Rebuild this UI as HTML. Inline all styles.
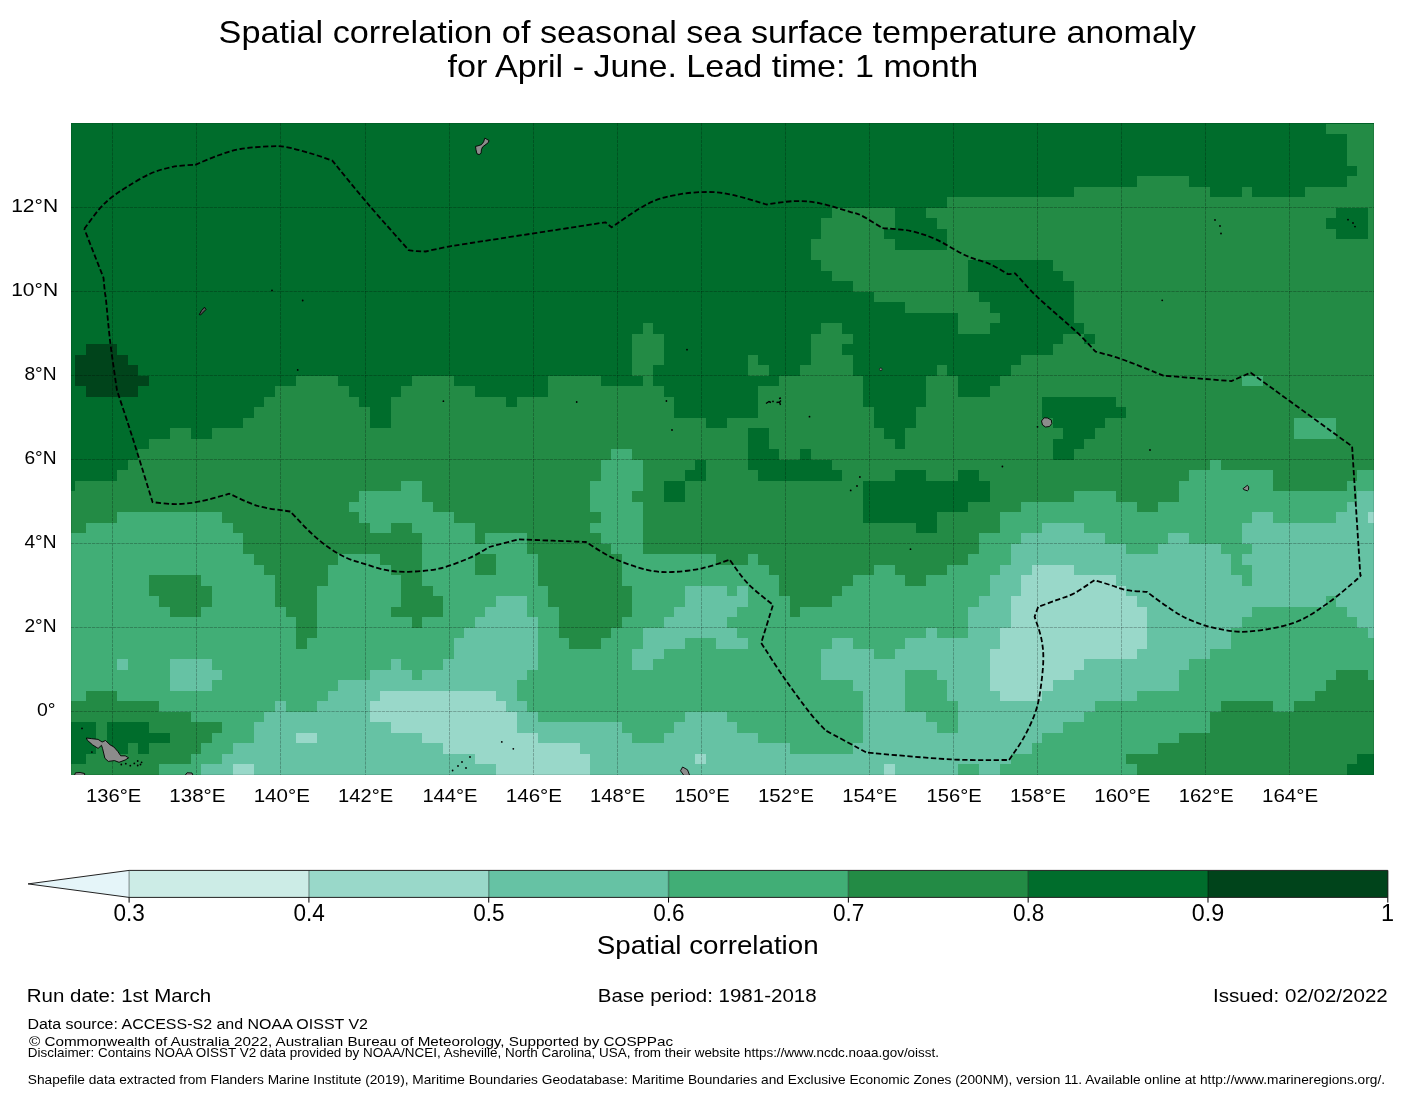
<!DOCTYPE html>
<html><head><meta charset="utf-8"><style>
html,body{margin:0;padding:0;background:#fff;width:1416px;height:1095px;overflow:hidden}
svg{display:block;will-change:transform}
text{font-family:"Liberation Sans", sans-serif;fill:#000}
</style></head><body>
<svg width="1416" height="1095" viewBox="0 0 1416 1095">
<rect width="1416" height="1095" fill="#fff"/>
<clipPath id="mc"><rect x="71.0" y="123.0" width="1303.0" height="652.0"/></clipPath>
<g clip-path="url(#mc)" shape-rendering="crispEdges"><rect x="71.0" y="123.0" width="1303.0" height="652.0" fill="#006d2c"/><path fill="#99d8c9" d="M1367.78 512.20H1374.00V522.70H1367.78ZM1031.54 564.70H1073.57V575.20H1031.54ZM1021.03 575.20H1115.60V585.70H1021.03ZM1021.03 585.70H1126.10V596.20H1021.03ZM1010.52 596.20H1136.61V606.70H1010.52ZM1010.52 606.70H1147.12V617.20H1010.52ZM1010.52 617.20H1147.12V627.70H1010.52ZM1000.01 627.70H1147.12V638.20H1000.01ZM1000.01 638.20H1147.12V648.70H1000.01ZM989.51 648.70H1136.61V659.20H989.51ZM989.51 659.20H1084.07V669.70H989.51ZM989.51 669.70H1073.57V680.20H989.51ZM989.51 680.20H1052.55V690.70H989.51ZM380.07 690.70H495.65V701.20H380.07ZM1000.01 690.70H1042.04V701.20H1000.01ZM369.56 701.20H506.16V711.70H369.56ZM369.56 711.70H516.67V722.20H369.56ZM390.58 722.20H516.67V732.70H390.58ZM296.01 732.70H317.03V743.20H296.01ZM422.10 732.70H537.68V743.20H422.10ZM443.12 743.20H579.71V753.70H443.12ZM474.64 753.70H590.22V764.20H474.64ZM695.30 753.70H705.80V764.20H695.30ZM232.97 764.20H253.98V774.70H232.97ZM495.65 764.20H590.22V774.70H495.65ZM884.43 764.20H894.94V774.70H884.43Z"/><path fill="#66c2a4" d="M1357.27 491.20H1374.00V501.70H1357.27ZM1346.76 501.70H1374.00V512.20H1346.76ZM1252.19 512.20H1273.21V522.70H1252.19ZM1336.25 512.20H1367.78V522.70H1336.25ZM1042.04 522.70H1084.07V533.20H1042.04ZM1241.69 522.70H1374.00V533.20H1241.69ZM1021.03 533.20H1105.09V543.70H1021.03ZM1168.13 533.20H1189.15V543.70H1168.13ZM1241.69 533.20H1374.00V543.70H1241.69ZM1010.52 543.70H1126.10V554.20H1010.52ZM1157.63 543.70H1220.67V554.20H1157.63ZM1252.19 543.70H1374.00V554.20H1252.19ZM1010.52 554.20H1231.18V564.70H1010.52ZM1241.69 554.20H1374.00V564.70H1241.69ZM1000.01 564.70H1031.54V575.20H1000.01ZM1073.57 564.70H1231.18V575.20H1073.57ZM1252.19 564.70H1374.00V575.20H1252.19ZM989.51 575.20H1021.03V585.70H989.51ZM1115.60 575.20H1241.69V585.70H1115.60ZM1252.19 575.20H1374.00V585.70H1252.19ZM684.79 585.70H726.82V596.20H684.79ZM737.33 585.70H747.83V596.20H737.33ZM989.51 585.70H1021.03V596.20H989.51ZM1126.10 585.70H1374.00V596.20H1126.10ZM495.65 596.20H527.18V606.70H495.65ZM684.79 596.20H747.83V606.70H684.79ZM979.00 596.20H1010.52V606.70H979.00ZM1136.61 596.20H1325.75V606.70H1136.61ZM1336.25 596.20H1374.00V606.70H1336.25ZM485.15 606.70H527.18V617.20H485.15ZM674.28 606.70H737.33V617.20H674.28ZM968.49 606.70H1010.52V617.20H968.49ZM1147.12 606.70H1252.19V617.20H1147.12ZM1346.76 606.70H1374.00V617.20H1346.76ZM474.64 617.20H537.68V627.70H474.64ZM663.77 617.20H726.82V627.70H663.77ZM968.49 617.20H1010.52V627.70H968.49ZM1147.12 617.20H1241.69V627.70H1147.12ZM1357.27 617.20H1374.00V627.70H1357.27ZM464.13 627.70H537.68V638.20H464.13ZM642.76 627.70H737.33V638.20H642.76ZM926.46 627.70H936.97V638.20H926.46ZM968.49 627.70H1000.01V638.20H968.49ZM1147.12 627.70H1231.18V638.20H1147.12ZM1367.78 627.70H1374.00V638.20H1367.78ZM453.62 638.20H537.68V648.70H453.62ZM642.76 638.20H684.79V648.70H642.76ZM716.31 638.20H747.83V648.70H716.31ZM831.89 638.20H852.91V648.70H831.89ZM905.45 638.20H1000.01V648.70H905.45ZM1147.12 638.20H1231.18V648.70H1147.12ZM453.62 648.70H537.68V659.20H453.62ZM632.25 648.70H663.77V659.20H632.25ZM821.39 648.70H873.92V659.20H821.39ZM894.94 648.70H989.51V659.20H894.94ZM1136.61 648.70H1210.16V659.20H1136.61ZM117.38 659.20H127.89V669.70H117.38ZM169.92 659.20H211.95V669.70H169.92ZM390.58 659.20H401.09V669.70H390.58ZM443.12 659.20H537.68V669.70H443.12ZM632.25 659.20H653.27V669.70H632.25ZM821.39 659.20H989.51V669.70H821.39ZM1084.07 659.20H1189.15V669.70H1084.07ZM169.92 669.70H222.46V680.20H169.92ZM369.56 669.70H411.59V680.20H369.56ZM422.10 669.70H527.18V680.20H422.10ZM821.39 669.70H905.45V680.20H821.39ZM936.97 669.70H989.51V680.20H936.97ZM1073.57 669.70H1178.64V680.20H1073.57ZM169.92 680.20H211.95V690.70H169.92ZM338.04 680.20H516.67V690.70H338.04ZM852.91 680.20H905.45V690.70H852.91ZM947.48 680.20H989.51V690.70H947.48ZM1052.55 680.20H1178.64V690.70H1052.55ZM327.53 690.70H380.07V701.20H327.53ZM495.65 690.70H516.67V701.20H495.65ZM863.42 690.70H905.45V701.20H863.42ZM947.48 690.70H1000.01V701.20H947.48ZM1042.04 690.70H1136.61V701.20H1042.04ZM275.00 701.20H285.50V711.70H275.00ZM317.03 701.20H369.56V711.70H317.03ZM506.16 701.20H527.18V711.70H506.16ZM863.42 701.20H905.45V711.70H863.42ZM957.98 701.20H1094.58V711.70H957.98ZM264.49 711.70H369.56V722.20H264.49ZM516.67 711.70H537.68V722.20H516.67ZM684.79 711.70H726.82V722.20H684.79ZM863.42 711.70H926.46V722.20H863.42ZM957.98 711.70H1084.07V722.20H957.98ZM253.98 722.20H390.58V732.70H253.98ZM516.67 722.20H621.74V732.70H516.67ZM674.28 722.20H737.33V732.70H674.28ZM863.42 722.20H936.97V732.70H863.42ZM957.98 722.20H1063.06V732.70H957.98ZM253.98 732.70H296.01V743.20H253.98ZM317.03 732.70H422.10V743.20H317.03ZM537.68 732.70H632.25V743.20H537.68ZM663.77 732.70H758.34V743.20H663.77ZM863.42 732.70H1042.04V743.20H863.42ZM232.97 743.20H443.12V753.70H232.97ZM579.71 743.20H789.86V753.70H579.71ZM852.91 743.20H1031.54V753.70H852.91ZM222.46 753.70H474.64V764.20H222.46ZM590.22 753.70H695.30V764.20H590.22ZM705.80 753.70H1010.52V764.20H705.80ZM201.44 764.20H232.97V774.70H201.44ZM253.98 764.20H495.65V774.70H253.98ZM590.22 764.20H884.43V774.70H590.22ZM894.94 764.20H957.98V774.70H894.94ZM979.00 764.20H1000.01V774.70H979.00Z"/><path fill="#41ae76" d="M1241.69 375.70H1262.70V386.20H1241.69ZM1294.22 417.70H1336.25V428.20H1294.22ZM1294.22 428.20H1336.25V438.70H1294.22ZM611.24 449.20H632.25V459.70H611.24ZM600.73 459.70H642.76V470.20H600.73ZM1210.16 459.70H1220.67V470.20H1210.16ZM600.73 470.20H642.76V480.70H600.73ZM1189.15 470.20H1273.21V480.70H1189.15ZM1357.27 470.20H1374.00V480.70H1357.27ZM401.09 480.70H422.10V491.20H401.09ZM590.22 480.70H642.76V491.20H590.22ZM1178.64 480.70H1273.21V491.20H1178.64ZM1346.76 480.70H1374.00V491.20H1346.76ZM359.06 491.20H422.10V501.70H359.06ZM590.22 491.20H632.25V501.70H590.22ZM1073.57 491.20H1115.60V501.70H1073.57ZM1178.64 491.20H1357.27V501.70H1178.64ZM348.55 501.70H432.61V512.20H348.55ZM590.22 501.70H642.76V512.20H590.22ZM1021.03 501.70H1136.61V512.20H1021.03ZM1157.63 501.70H1346.76V512.20H1157.63ZM117.38 512.20H222.46V522.70H117.38ZM359.06 512.20H453.62V522.70H359.06ZM600.73 512.20H642.76V522.70H600.73ZM1000.01 512.20H1252.19V522.70H1000.01ZM1273.21 512.20H1336.25V522.70H1273.21ZM85.86 522.70H232.97V533.20H85.86ZM369.56 522.70H390.58V533.20H369.56ZM411.59 522.70H474.64V533.20H411.59ZM590.22 522.70H642.76V533.20H590.22ZM1000.01 522.70H1042.04V533.20H1000.01ZM1084.07 522.70H1241.69V533.20H1084.07ZM71.00 533.20H243.47V543.70H71.00ZM422.10 533.20H474.64V543.70H422.10ZM485.15 533.20H527.18V543.70H485.15ZM600.73 533.20H642.76V543.70H600.73ZM979.00 533.20H1021.03V543.70H979.00ZM1105.09 533.20H1168.13V543.70H1105.09ZM1189.15 533.20H1241.69V543.70H1189.15ZM71.00 543.70H243.47V554.20H71.00ZM422.10 543.70H527.18V554.20H422.10ZM611.24 543.70H642.76V554.20H611.24ZM979.00 543.70H1010.52V554.20H979.00ZM1126.10 543.70H1157.63V554.20H1126.10ZM1220.67 543.70H1252.19V554.20H1220.67ZM71.00 554.20H253.98V564.70H71.00ZM338.04 554.20H380.07V564.70H338.04ZM422.10 554.20H474.64V564.70H422.10ZM495.65 554.20H537.68V564.70H495.65ZM621.74 554.20H716.31V564.70H621.74ZM747.83 554.20H758.34V564.70H747.83ZM968.49 554.20H1010.52V564.70H968.49ZM1231.18 554.20H1241.69V564.70H1231.18ZM71.00 564.70H264.49V575.20H71.00ZM327.53 564.70H390.58V575.20H327.53ZM422.10 564.70H474.64V575.20H422.10ZM495.65 564.70H537.68V575.20H495.65ZM621.74 564.70H768.85V575.20H621.74ZM873.92 564.70H894.94V575.20H873.92ZM947.48 564.70H1000.01V575.20H947.48ZM1231.18 564.70H1252.19V575.20H1231.18ZM71.00 575.20H148.91V585.70H71.00ZM201.44 575.20H275.00V585.70H201.44ZM327.53 575.20H401.09V585.70H327.53ZM422.10 575.20H537.68V585.70H422.10ZM621.74 575.20H779.36V585.70H621.74ZM852.91 575.20H905.45V585.70H852.91ZM926.46 575.20H989.51V585.70H926.46ZM1241.69 575.20H1252.19V585.70H1241.69ZM71.00 585.70H148.91V596.20H71.00ZM211.95 585.70H275.00V596.20H211.95ZM317.03 585.70H401.09V596.20H317.03ZM432.61 585.70H548.19V596.20H432.61ZM632.25 585.70H684.79V596.20H632.25ZM726.82 585.70H737.33V596.20H726.82ZM747.83 585.70H779.36V596.20H747.83ZM842.40 585.70H989.51V596.20H842.40ZM71.00 596.20H159.41V606.70H71.00ZM211.95 596.20H275.00V606.70H211.95ZM317.03 596.20H401.09V606.70H317.03ZM443.12 596.20H495.65V606.70H443.12ZM527.18 596.20H548.19V606.70H527.18ZM632.25 596.20H684.79V606.70H632.25ZM747.83 596.20H789.86V606.70H747.83ZM831.89 596.20H979.00V606.70H831.89ZM1325.75 596.20H1336.25V606.70H1325.75ZM71.00 606.70H169.92V617.20H71.00ZM201.44 606.70H285.50V617.20H201.44ZM317.03 606.70H390.58V617.20H317.03ZM443.12 606.70H485.15V617.20H443.12ZM527.18 606.70H558.70V617.20H527.18ZM632.25 606.70H674.28V617.20H632.25ZM737.33 606.70H789.86V617.20H737.33ZM800.37 606.70H968.49V617.20H800.37ZM1252.19 606.70H1346.76V617.20H1252.19ZM71.00 617.20H296.01V627.70H71.00ZM317.03 617.20H411.59V627.70H317.03ZM422.10 617.20H474.64V627.70H422.10ZM537.68 617.20H558.70V627.70H537.68ZM621.74 617.20H663.77V627.70H621.74ZM726.82 617.20H968.49V627.70H726.82ZM1241.69 617.20H1357.27V627.70H1241.69ZM71.00 627.70H296.01V638.20H71.00ZM317.03 627.70H464.13V638.20H317.03ZM537.68 627.70H558.70V638.20H537.68ZM611.24 627.70H642.76V638.20H611.24ZM737.33 627.70H926.46V638.20H737.33ZM936.97 627.70H968.49V638.20H936.97ZM1231.18 627.70H1367.78V638.20H1231.18ZM71.00 638.20H296.01V648.70H71.00ZM306.52 638.20H453.62V648.70H306.52ZM537.68 638.20H569.21V648.70H537.68ZM600.73 638.20H642.76V648.70H600.73ZM684.79 638.20H716.31V648.70H684.79ZM747.83 638.20H831.89V648.70H747.83ZM852.91 638.20H905.45V648.70H852.91ZM1231.18 638.20H1374.00V648.70H1231.18ZM71.00 648.70H453.62V659.20H71.00ZM537.68 648.70H632.25V659.20H537.68ZM663.77 648.70H821.39V659.20H663.77ZM873.92 648.70H894.94V659.20H873.92ZM1210.16 648.70H1374.00V659.20H1210.16ZM71.00 659.20H117.38V669.70H71.00ZM127.89 659.20H169.92V669.70H127.89ZM211.95 659.20H390.58V669.70H211.95ZM401.09 659.20H443.12V669.70H401.09ZM537.68 659.20H632.25V669.70H537.68ZM653.27 659.20H821.39V669.70H653.27ZM1189.15 659.20H1374.00V669.70H1189.15ZM71.00 669.70H169.92V680.20H71.00ZM222.46 669.70H369.56V680.20H222.46ZM411.59 669.70H422.10V680.20H411.59ZM527.18 669.70H821.39V680.20H527.18ZM905.45 669.70H936.97V680.20H905.45ZM1178.64 669.70H1336.25V680.20H1178.64ZM1367.78 669.70H1374.00V680.20H1367.78ZM71.00 680.20H169.92V690.70H71.00ZM211.95 680.20H338.04V690.70H211.95ZM516.67 680.20H852.91V690.70H516.67ZM905.45 680.20H947.48V690.70H905.45ZM1178.64 680.20H1325.75V690.70H1178.64ZM71.00 690.70H85.86V701.20H71.00ZM117.38 690.70H327.53V701.20H117.38ZM516.67 690.70H863.42V701.20H516.67ZM905.45 690.70H947.48V701.20H905.45ZM1136.61 690.70H1315.24V701.20H1136.61ZM159.41 701.20H275.00V711.70H159.41ZM285.50 701.20H317.03V711.70H285.50ZM527.18 701.20H863.42V711.70H527.18ZM905.45 701.20H957.98V711.70H905.45ZM1094.58 701.20H1220.67V711.70H1094.58ZM1273.21 701.20H1294.22V711.70H1273.21ZM190.94 711.70H264.49V722.20H190.94ZM537.68 711.70H684.79V722.20H537.68ZM726.82 711.70H863.42V722.20H726.82ZM926.46 711.70H957.98V722.20H926.46ZM1084.07 711.70H1210.16V722.20H1084.07ZM222.46 722.20H253.98V732.70H222.46ZM621.74 722.20H674.28V732.70H621.74ZM737.33 722.20H863.42V732.70H737.33ZM936.97 722.20H957.98V732.70H936.97ZM1063.06 722.20H1210.16V732.70H1063.06ZM211.95 732.70H253.98V743.20H211.95ZM632.25 732.70H663.77V743.20H632.25ZM758.34 732.70H863.42V743.20H758.34ZM1042.04 732.70H1178.64V743.20H1042.04ZM201.44 743.20H232.97V753.70H201.44ZM789.86 743.20H852.91V753.70H789.86ZM1031.54 743.20H1157.63V753.70H1031.54ZM190.94 753.70H222.46V764.20H190.94ZM1010.52 753.70H1126.10V764.20H1010.52ZM159.41 764.20H201.44V774.70H159.41ZM957.98 764.20H979.00V774.70H957.98ZM1000.01 764.20H1136.61V774.70H1000.01Z"/><path fill="#238b45" d="M1325.75 123.70H1374.00V134.20H1325.75ZM1346.76 134.20H1374.00V144.70H1346.76ZM1346.76 144.70H1374.00V155.20H1346.76ZM1346.76 155.20H1374.00V165.70H1346.76ZM1357.27 165.70H1374.00V176.20H1357.27ZM1136.61 176.20H1189.15V186.70H1136.61ZM1346.76 176.20H1374.00V186.70H1346.76ZM1073.57 186.70H1210.16V197.20H1073.57ZM1241.69 186.70H1252.19V197.20H1241.69ZM1304.73 186.70H1374.00V197.20H1304.73ZM947.48 197.20H1374.00V207.70H947.48ZM831.89 207.70H894.94V218.20H831.89ZM926.46 207.70H1336.25V218.20H926.46ZM1367.78 207.70H1374.00V218.20H1367.78ZM821.39 218.20H894.94V228.70H821.39ZM936.97 218.20H1325.75V228.70H936.97ZM1367.78 218.20H1374.00V228.70H1367.78ZM821.39 228.70H884.43V239.20H821.39ZM947.48 228.70H1336.25V239.20H947.48ZM1367.78 228.70H1374.00V239.20H1367.78ZM810.88 239.20H894.94V249.70H810.88ZM947.48 239.20H1374.00V249.70H947.48ZM810.88 249.70H1374.00V260.20H810.88ZM821.39 260.20H968.49V270.70H821.39ZM1052.55 260.20H1374.00V270.70H1052.55ZM831.89 270.70H968.49V281.20H831.89ZM1063.06 270.70H1374.00V281.20H1063.06ZM852.91 281.20H968.49V291.70H852.91ZM1073.57 281.20H1374.00V291.70H1073.57ZM873.92 291.70H979.00V302.20H873.92ZM1073.57 291.70H1374.00V302.20H1073.57ZM905.45 302.20H989.51V312.70H905.45ZM1073.57 302.20H1374.00V312.70H1073.57ZM957.98 312.70H1000.01V323.20H957.98ZM1073.57 312.70H1374.00V323.20H1073.57ZM642.76 323.20H653.27V333.70H642.76ZM821.39 323.20H842.40V333.70H821.39ZM957.98 323.20H989.51V333.70H957.98ZM1084.07 323.20H1374.00V333.70H1084.07ZM632.25 333.70H663.77V344.20H632.25ZM810.88 333.70H852.91V344.20H810.88ZM1063.06 333.70H1084.07V344.20H1063.06ZM1094.58 333.70H1374.00V344.20H1094.58ZM632.25 344.20H663.77V354.70H632.25ZM810.88 344.20H842.40V354.70H810.88ZM1052.55 344.20H1374.00V354.70H1052.55ZM632.25 354.70H663.77V365.20H632.25ZM747.83 354.70H758.34V365.20H747.83ZM810.88 354.70H852.91V365.20H810.88ZM1021.03 354.70H1374.00V365.20H1021.03ZM632.25 365.20H653.27V375.70H632.25ZM747.83 365.20H768.85V375.70H747.83ZM800.37 365.20H852.91V375.70H800.37ZM936.97 365.20H947.48V375.70H936.97ZM1010.52 365.20H1374.00V375.70H1010.52ZM296.01 375.70H338.04V386.20H296.01ZM411.59 375.70H453.62V386.20H411.59ZM548.19 375.70H600.73V386.20H548.19ZM642.76 375.70H653.27V386.20H642.76ZM779.36 375.70H863.42V386.20H779.36ZM926.46 375.70H957.98V386.20H926.46ZM1000.01 375.70H1241.69V386.20H1000.01ZM1262.70 375.70H1374.00V386.20H1262.70ZM275.00 386.20H348.55V396.70H275.00ZM401.09 386.20H474.64V396.70H401.09ZM548.19 386.20H663.77V396.70H548.19ZM758.34 386.20H863.42V396.70H758.34ZM926.46 386.20H957.98V396.70H926.46ZM989.51 386.20H1374.00V396.70H989.51ZM264.49 396.70H359.06V407.20H264.49ZM390.58 396.70H506.16V407.20H390.58ZM516.67 396.70H674.28V407.20H516.67ZM758.34 396.70H863.42V407.20H758.34ZM926.46 396.70H1042.04V407.20H926.46ZM1115.60 396.70H1374.00V407.20H1115.60ZM253.98 407.20H369.56V417.70H253.98ZM390.58 407.20H674.28V417.70H390.58ZM758.34 407.20H873.92V417.70H758.34ZM915.95 407.20H1042.04V417.70H915.95ZM1126.10 407.20H1374.00V417.70H1126.10ZM243.47 417.70H369.56V428.20H243.47ZM390.58 417.70H705.80V428.20H390.58ZM726.82 417.70H873.92V428.20H726.82ZM915.95 417.70H1052.55V428.20H915.95ZM1105.09 417.70H1294.22V428.20H1105.09ZM1336.25 417.70H1374.00V428.20H1336.25ZM169.92 428.20H190.94V438.70H169.92ZM211.95 428.20H747.83V438.70H211.95ZM768.85 428.20H884.43V438.70H768.85ZM905.45 428.20H1063.06V438.70H905.45ZM1094.58 428.20H1294.22V438.70H1094.58ZM1336.25 428.20H1374.00V438.70H1336.25ZM148.91 438.70H747.83V449.20H148.91ZM768.85 438.70H894.94V449.20H768.85ZM905.45 438.70H1052.55V449.20H905.45ZM1084.07 438.70H1374.00V449.20H1084.07ZM138.40 449.20H611.24V459.70H138.40ZM632.25 449.20H747.83V459.70H632.25ZM779.36 449.20H800.37V459.70H779.36ZM810.88 449.20H1052.55V459.70H810.88ZM1073.57 449.20H1374.00V459.70H1073.57ZM127.89 459.70H600.73V470.20H127.89ZM642.76 459.70H695.30V470.20H642.76ZM705.80 459.70H747.83V470.20H705.80ZM831.89 459.70H1210.16V470.20H831.89ZM1220.67 459.70H1374.00V470.20H1220.67ZM117.38 470.20H600.73V480.70H117.38ZM642.76 470.20H684.79V480.70H642.76ZM705.80 470.20H758.34V480.70H705.80ZM842.40 470.20H894.94V480.70H842.40ZM926.46 470.20H957.98V480.70H926.46ZM979.00 470.20H1189.15V480.70H979.00ZM1273.21 470.20H1357.27V480.70H1273.21ZM75.35 480.70H401.09V491.20H75.35ZM422.10 480.70H590.22V491.20H422.10ZM642.76 480.70H663.77V491.20H642.76ZM684.79 480.70H863.42V491.20H684.79ZM989.51 480.70H1178.64V491.20H989.51ZM1273.21 480.70H1346.76V491.20H1273.21ZM71.00 491.20H359.06V501.70H71.00ZM422.10 491.20H590.22V501.70H422.10ZM632.25 491.20H663.77V501.70H632.25ZM684.79 491.20H863.42V501.70H684.79ZM989.51 491.20H1073.57V501.70H989.51ZM1115.60 491.20H1178.64V501.70H1115.60ZM71.00 501.70H348.55V512.20H71.00ZM432.61 501.70H590.22V512.20H432.61ZM642.76 501.70H863.42V512.20H642.76ZM968.49 501.70H1021.03V512.20H968.49ZM1136.61 501.70H1157.63V512.20H1136.61ZM71.00 512.20H117.38V522.70H71.00ZM222.46 512.20H359.06V522.70H222.46ZM453.62 512.20H600.73V522.70H453.62ZM642.76 512.20H863.42V522.70H642.76ZM936.97 512.20H1000.01V522.70H936.97ZM71.00 522.70H85.86V533.20H71.00ZM232.97 522.70H369.56V533.20H232.97ZM390.58 522.70H411.59V533.20H390.58ZM474.64 522.70H590.22V533.20H474.64ZM642.76 522.70H915.95V533.20H642.76ZM936.97 522.70H1000.01V533.20H936.97ZM243.47 533.20H422.10V543.70H243.47ZM474.64 533.20H485.15V543.70H474.64ZM527.18 533.20H600.73V543.70H527.18ZM642.76 533.20H979.00V543.70H642.76ZM243.47 543.70H422.10V554.20H243.47ZM527.18 543.70H611.24V554.20H527.18ZM642.76 543.70H979.00V554.20H642.76ZM253.98 554.20H338.04V564.70H253.98ZM380.07 554.20H422.10V564.70H380.07ZM474.64 554.20H495.65V564.70H474.64ZM537.68 554.20H621.74V564.70H537.68ZM716.31 554.20H747.83V564.70H716.31ZM758.34 554.20H968.49V564.70H758.34ZM264.49 564.70H327.53V575.20H264.49ZM390.58 564.70H422.10V575.20H390.58ZM474.64 564.70H495.65V575.20H474.64ZM537.68 564.70H621.74V575.20H537.68ZM768.85 564.70H873.92V575.20H768.85ZM894.94 564.70H947.48V575.20H894.94ZM148.91 575.20H201.44V585.70H148.91ZM275.00 575.20H327.53V585.70H275.00ZM401.09 575.20H422.10V585.70H401.09ZM537.68 575.20H621.74V585.70H537.68ZM779.36 575.20H852.91V585.70H779.36ZM905.45 575.20H926.46V585.70H905.45ZM148.91 585.70H211.95V596.20H148.91ZM275.00 585.70H317.03V596.20H275.00ZM401.09 585.70H432.61V596.20H401.09ZM548.19 585.70H632.25V596.20H548.19ZM779.36 585.70H842.40V596.20H779.36ZM159.41 596.20H211.95V606.70H159.41ZM275.00 596.20H317.03V606.70H275.00ZM401.09 596.20H443.12V606.70H401.09ZM548.19 596.20H632.25V606.70H548.19ZM789.86 596.20H831.89V606.70H789.86ZM169.92 606.70H201.44V617.20H169.92ZM285.50 606.70H317.03V617.20H285.50ZM390.58 606.70H443.12V617.20H390.58ZM558.70 606.70H632.25V617.20H558.70ZM789.86 606.70H800.37V617.20H789.86ZM296.01 617.20H317.03V627.70H296.01ZM411.59 617.20H422.10V627.70H411.59ZM558.70 617.20H621.74V627.70H558.70ZM296.01 627.70H317.03V638.20H296.01ZM558.70 627.70H611.24V638.20H558.70ZM296.01 638.20H306.52V648.70H296.01ZM569.21 638.20H600.73V648.70H569.21ZM1336.25 669.70H1367.78V680.20H1336.25ZM1325.75 680.20H1374.00V690.70H1325.75ZM85.86 690.70H117.38V701.20H85.86ZM1315.24 690.70H1374.00V701.20H1315.24ZM71.00 701.20H159.41V711.70H71.00ZM1220.67 701.20H1273.21V711.70H1220.67ZM1294.22 701.20H1374.00V711.70H1294.22ZM71.00 711.70H190.94V722.20H71.00ZM1210.16 711.70H1374.00V722.20H1210.16ZM96.37 722.20H106.88V732.70H96.37ZM148.91 722.20H222.46V732.70H148.91ZM1210.16 722.20H1374.00V732.70H1210.16ZM96.37 732.70H106.88V743.20H96.37ZM169.92 732.70H211.95V743.20H169.92ZM1178.64 732.70H1374.00V743.20H1178.64ZM96.37 743.20H106.88V753.70H96.37ZM127.89 743.20H138.40V753.70H127.89ZM148.91 743.20H201.44V753.70H148.91ZM1157.63 743.20H1374.00V753.70H1157.63ZM85.86 753.70H190.94V764.20H85.86ZM1126.10 753.70H1357.27V764.20H1126.10ZM71.00 764.20H159.41V774.70H71.00ZM1136.61 764.20H1346.76V774.70H1136.61Z"/><path fill="#00441b" d="M85.86 344.20H117.38V354.70H85.86ZM75.35 354.70H127.89V365.20H75.35ZM75.35 365.20H138.40V375.70H75.35ZM75.35 375.70H148.91V386.20H75.35ZM85.86 386.20H138.40V396.70H85.86Z"/><path d="M112.50 123.0V775.0M196.50 123.0V775.0M280.50 123.0V775.0M365.50 123.0V775.0M449.50 123.0V775.0M533.50 123.0V775.0M617.50 123.0V775.0M701.50 123.0V775.0M785.50 123.0V775.0M869.50 123.0V775.0M953.50 123.0V775.0M1037.50 123.0V775.0M1121.50 123.0V775.0M1205.50 123.0V775.0M1289.50 123.0V775.0M71.0 711.50H1374.0M71.0 627.50H1374.0M71.0 543.50H1374.0M71.0 459.50H1374.0M71.0 375.50H1374.0M71.0 291.50H1374.0M71.0 207.50H1374.0" stroke="#000" stroke-opacity="0.24" stroke-width="1" stroke-dasharray="3.3 0.9" fill="none" shape-rendering="auto"/></g>
<g clip-path="url(#mc)"><path d="M84.3,228.9 C86.8,225.6 94.6,214.5 99.2,209.2 C103.8,203.9 107.3,200.8 112.0,197.0 C116.7,193.2 121.2,190.5 127.5,186.6 C133.8,182.7 142.6,177.1 150.1,173.8 C157.6,170.5 165.2,168.3 172.7,166.8 C180.2,165.3 191.5,165.1 195.3,164.8 C199.1,163.2 210.4,158.1 217.9,155.5 C225.4,152.9 232.0,150.5 240.5,149.0 C249.0,147.5 261.2,146.7 268.7,146.4 C276.2,146.1 278.6,145.8 285.7,147.0 C292.8,148.2 303.3,151.2 311.1,153.5 C318.9,155.8 328.8,159.4 332.3,160.6 C338.2,167.8 354.9,188.6 367.6,203.5 C380.3,218.4 401.8,242.3 408.6,250.1 C410.0,250.3 414.2,251.0 417.0,251.2 C419.8,251.4 424.1,251.4 425.5,251.5 C429.6,250.6 442.4,247.7 450.0,246.3 C457.6,244.9 445.1,247.0 471.0,243.0 C496.9,239.0 583.0,225.8 605.4,222.3 C606.4,223.1 610.6,226.5 611.6,227.3 C617.6,223.4 637.0,209.3 647.7,203.9 C658.4,198.5 666.1,196.9 676.0,194.9 C685.9,192.9 697.7,192.0 707.1,192.0 C716.5,192.0 722.6,192.8 732.5,194.9 C742.4,197.0 760.8,202.9 766.4,204.5 C771.1,203.9 785.7,201.3 794.6,201.1 C803.5,200.9 810.8,201.5 820.0,203.3 C829.2,205.1 843.1,209.8 850.0,211.8 C856.9,213.8 855.8,212.7 861.2,215.4 C866.6,218.1 878.9,226.0 882.4,228.1 C887.1,228.6 901.7,229.1 910.6,231.0 C919.5,232.9 926.8,235.3 936.0,239.4 C945.2,243.5 956.8,251.4 965.7,255.5 C974.7,259.6 982.6,260.9 989.7,264.0 C996.8,267.1 1005.0,272.5 1008.1,274.2 C1009.3,274.1 1013.9,273.4 1015.1,273.3 C1018.9,277.3 1027.3,287.4 1037.7,297.3 C1048.1,307.2 1067.7,323.6 1077.3,332.7 C1086.9,341.8 1092.5,348.5 1095.6,351.6 C1100.1,352.9 1111.2,355.5 1122.5,359.5 C1133.8,363.5 1156.6,372.9 1163.4,375.6 C1174.7,376.5 1220.0,380.2 1231.3,381.1 C1234.5,379.7 1247.5,374.1 1250.7,372.7 C1267.6,385.0 1335.2,434.1 1352.1,446.4 C1353.5,467.8 1358.9,553.3 1360.3,574.7 C1359.8,575.4 1363.1,574.0 1357.6,578.8 C1352.1,583.6 1337.9,596.1 1327.4,603.4 C1316.9,610.7 1307.7,617.9 1294.5,622.6 C1281.3,627.3 1261.2,630.7 1248.0,631.6 C1234.8,632.5 1224.8,630.1 1215.1,628.1 C1205.4,626.1 1197.4,623.0 1190.0,619.9 C1182.6,616.8 1178.1,613.9 1170.9,609.2 C1163.7,604.5 1150.8,594.7 1146.8,591.8 C1143.5,591.5 1132.7,591.3 1126.7,590.2 C1120.7,589.1 1116.0,586.8 1110.6,585.1 C1105.2,583.4 1097.2,580.9 1094.5,580.1 C1091.2,582.3 1080.8,589.9 1074.4,593.2 C1068.0,596.6 1062.3,597.9 1056.3,600.2 C1050.3,602.5 1041.2,605.7 1038.2,606.8 C1037.6,608.4 1035.2,615.1 1034.6,616.7 C1035.7,620.3 1039.8,631.1 1041.3,638.4 C1042.8,645.7 1043.5,651.8 1043.3,660.5 C1043.1,669.2 1041.6,682.0 1040.3,690.7 C1039.0,699.4 1037.9,705.1 1035.2,712.8 C1032.5,720.5 1028.5,729.0 1024.2,736.9 C1019.9,744.8 1011.6,756.1 1009.1,760.0 C999.4,759.9 974.9,760.6 951.1,759.4 C927.4,758.2 880.7,753.7 866.6,752.6 C859.8,748.9 832.4,734.1 825.5,730.4 C822.9,727.4 816.4,721.3 809.6,712.6 C802.8,703.9 792.6,690.0 784.5,678.4 C776.4,666.8 765.1,648.9 761.2,643.0 C763.2,636.6 771.0,611.2 773.0,604.9 C768.8,601.4 755.1,591.1 747.9,583.6 C740.7,576.1 732.7,563.7 729.7,559.7 C725.2,561.1 712.5,566.1 702.9,568.1 C693.3,570.1 681.7,571.7 672.4,572.0 C663.1,572.3 656.8,572.1 647.0,569.9 C637.2,567.6 624.1,563.1 613.9,558.5 C603.7,553.9 590.6,544.8 586.0,542.0 C580.5,541.8 564.1,541.1 552.9,540.7 C541.7,540.3 524.3,539.6 518.6,539.4 C513.7,540.7 494.2,545.7 489.3,547.0 C486.0,548.8 477.8,554.4 469.4,558.0 C461.0,561.6 449.0,566.4 438.8,568.7 C428.6,571.0 416.8,571.5 408.1,571.8 C399.4,572.0 393.9,571.5 386.7,570.2 C379.5,568.9 371.8,566.1 365.2,564.1 C358.6,562.1 352.9,560.8 346.8,558.0 C340.7,555.2 334.5,551.6 328.4,547.3 C322.3,543.0 316.3,538.0 310.0,532.0 C303.7,526.0 293.7,514.9 290.4,511.5 C285.0,510.6 268.3,509.0 258.1,506.0 C247.9,503.0 234.1,495.8 229.3,493.7 C224.5,495.0 209.4,499.7 200.5,501.4 C191.6,503.1 183.9,504.0 175.9,504.1 C167.9,504.2 156.5,502.5 152.6,502.2 C150.1,494.1 141.6,466.5 137.5,453.4 C133.4,440.2 131.3,433.8 127.9,423.3 C124.5,412.8 118.8,395.9 117.0,390.4 C115.8,382.2 111.9,356.2 110.1,341.1 C108.3,326.0 106.9,308.1 106.0,300.0 C105.1,291.9 105.3,296.2 104.9,292.5 C104.5,288.8 103.7,280.2 103.5,277.8 C100.3,269.7 87.5,237.1 84.3,228.9" fill="none" stroke="#000" stroke-width="1.8" stroke-dasharray="5.3 2.55" stroke-linejoin="round"/>
<polygon points="484.8,138.1 489.0,140.5 488.2,142.7 482.5,147.0 481.4,149.8 481.1,153.2 479.1,154.6 476.9,153.7 476.0,149.8 475.5,146.4 478.0,145.8 481.4,144.7 483.6,141.9" fill="#8c8c8c" stroke="#000" stroke-width="0.9" stroke-linejoin="round"/>
<polygon points="86.3,738.0 91.3,738.6 98.1,739.4 102.1,742.0 105.5,740.5 110.0,744.8 113.9,747.0 117.9,751.6 120.7,755.8 125.2,755.8 128.6,757.8 125.2,760.0 119.0,762.3 114.5,760.6 108.3,761.4 104.9,758.3 102.6,748.7 101.5,745.3 98.1,748.4 92.5,744.8 87.4,740.3" fill="#8c8c8c" stroke="#000" stroke-width="0.9" stroke-linejoin="round"/>
<polygon points="1243.0,488.7 1247.4,485.3 1248.7,486.9 1248.5,489.8 1247.4,490.8 1243.7,489.6" fill="#8c8c8c" stroke="#000" stroke-width="0.9" stroke-linejoin="round"/>
<polygon points="680.5,770.8 682.6,767.0 687.5,769.8 689.7,775.5 684.0,775.5" fill="#8c8c8c" stroke="#000" stroke-width="0.9" stroke-linejoin="round"/>
<polygon points="1041.5,421.0 1044.0,417.8 1047.5,418.0 1051.3,420.0 1051.8,423.5 1049.5,426.5 1045.5,427.0 1042.5,425.0" fill="#8c8c8c" stroke="#000" stroke-width="0.9" stroke-linejoin="round"/>
<polygon points="74.4,775.5 75.5,772.8 80.0,772.5 84.6,773.5 84.6,775.5" fill="#8c8c8c" stroke="#000" stroke-width="0.9" stroke-linejoin="round"/>
<polygon points="185.0,775.5 187.0,772.8 192.0,773.0 193.0,775.5" fill="#8c8c8c" stroke="#000" stroke-width="0.9" stroke-linejoin="round"/>
<polygon points="199.3,314.6 201.5,310.5 204.5,307.2 206.0,309.5 203.5,312.0 200.5,315.0" fill="#555" stroke="#000" stroke-width="0.9" stroke-linejoin="round"/>
<circle cx="121.3" cy="764.5" r="0.9" fill="#000"/>
<circle cx="125.8" cy="763.7" r="0.9" fill="#000"/>
<circle cx="130.3" cy="765.7" r="0.9" fill="#000"/>
<circle cx="134.3" cy="763.4" r="0.9" fill="#000"/>
<circle cx="137.7" cy="761" r="0.9" fill="#000"/>
<circle cx="137.7" cy="765.5" r="0.9" fill="#000"/>
<circle cx="140.5" cy="764.5" r="0.9" fill="#000"/>
<circle cx="141.6" cy="762.3" r="0.9" fill="#000"/>
<circle cx="91.9" cy="752.1" r="0.9" fill="#000"/>
<circle cx="82" cy="728.4" r="0.9" fill="#000"/>
<circle cx="272" cy="290.4" r="0.9" fill="#000"/>
<circle cx="302.7" cy="300.5" r="0.9" fill="#000"/>
<circle cx="297.7" cy="369.9" r="0.9" fill="#000"/>
<circle cx="443.4" cy="401.2" r="0.9" fill="#000"/>
<circle cx="576.7" cy="402" r="0.9" fill="#000"/>
<circle cx="666.4" cy="401" r="0.9" fill="#000"/>
<circle cx="672" cy="430" r="0.9" fill="#000"/>
<circle cx="687" cy="349.7" r="0.9" fill="#000"/>
<circle cx="452.6" cy="770.5" r="0.9" fill="#000"/>
<circle cx="458" cy="766" r="0.9" fill="#000"/>
<circle cx="462" cy="762" r="0.9" fill="#000"/>
<circle cx="466" cy="768" r="0.9" fill="#000"/>
<circle cx="470" cy="757" r="0.9" fill="#000"/>
<circle cx="501.8" cy="741.9" r="0.9" fill="#000"/>
<circle cx="513.3" cy="748.8" r="0.9" fill="#000"/>
<circle cx="850.7" cy="490.4" r="0.9" fill="#000"/>
<circle cx="857" cy="486" r="0.9" fill="#000"/>
<circle cx="859.9" cy="477" r="0.9" fill="#000"/>
<circle cx="1002.4" cy="466.5" r="0.9" fill="#000"/>
<circle cx="910.5" cy="549.2" r="0.9" fill="#000"/>
<circle cx="1150" cy="450" r="0.9" fill="#000"/>
<circle cx="1162.2" cy="300.3" r="0.9" fill="#000"/>
<circle cx="1215" cy="220" r="0.9" fill="#000"/>
<circle cx="1220" cy="226" r="0.9" fill="#000"/>
<circle cx="1221" cy="233.5" r="0.9" fill="#000"/>
<circle cx="1348" cy="219.7" r="0.9" fill="#000"/>
<circle cx="1353" cy="223" r="0.9" fill="#000"/>
<circle cx="1355" cy="226.6" r="0.9" fill="#000"/>
<circle cx="809.5" cy="416.7" r="0.9" fill="#000"/>
<circle cx="1037.5" cy="426.8" r="0.9" fill="#000"/>
<circle cx="773" cy="401.4" r="0.9" fill="#000"/>
<path d="M766,403.5 L769,401.5 L771,402.5 M776.5,402.5 L779.5,402 L781,400.5 M779.5,402 L780.5,405 M779,398.5 L781,398" stroke="#000" stroke-width="1.4" fill="none"/>
<circle cx="880.8" cy="369.3" r="1.3" fill="#8c8c8c" stroke="#000" stroke-width="0.6"/>
</g>
<rect x="71.5" y="123.5" width="1302" height="651" fill="none" stroke="#000" stroke-opacity="0.1" stroke-width="1"/>
<text x="218.6" y="42.9" font-size="31.5" text-anchor="start" textLength="977.2" lengthAdjust="spacingAndGlyphs">Spatial correlation of seasonal sea surface temperature anomaly</text>
<text x="447.6" y="76.9" font-size="31.5" text-anchor="start" textLength="530.6" lengthAdjust="spacingAndGlyphs">for April - June. Lead time: 1 month</text>
<text x="11.2" y="212.0" font-size="18.5" text-anchor="start" textLength="46.9" lengthAdjust="spacingAndGlyphs">12°N</text>
<text x="11.2" y="296.0" font-size="18.5" text-anchor="start" textLength="46.9" lengthAdjust="spacingAndGlyphs">10°N</text>
<text x="24.4" y="380.0" font-size="18.5" text-anchor="start" textLength="32.2" lengthAdjust="spacingAndGlyphs">8°N</text>
<text x="24.4" y="464.0" font-size="18.5" text-anchor="start" textLength="32.2" lengthAdjust="spacingAndGlyphs">6°N</text>
<text x="24.4" y="548.0" font-size="18.5" text-anchor="start" textLength="32.1" lengthAdjust="spacingAndGlyphs">4°N</text>
<text x="24.4" y="632.0" font-size="18.5" text-anchor="start" textLength="32.2" lengthAdjust="spacingAndGlyphs">2°N</text>
<text x="37.0" y="716.0" font-size="18.5" text-anchor="start" textLength="18.6" lengthAdjust="spacingAndGlyphs">0°</text>
<text x="86.0" y="801.9" font-size="18.5" text-anchor="start" textLength="55.2" lengthAdjust="spacingAndGlyphs">136°E</text>
<text x="169.3" y="801.9" font-size="18.5" text-anchor="start" textLength="56.2" lengthAdjust="spacingAndGlyphs">138°E</text>
<text x="253.7" y="801.9" font-size="18.5" text-anchor="start" textLength="56.2" lengthAdjust="spacingAndGlyphs">140°E</text>
<text x="338.1" y="801.9" font-size="18.5" text-anchor="start" textLength="55.1" lengthAdjust="spacingAndGlyphs">142°E</text>
<text x="422.4" y="801.9" font-size="18.5" text-anchor="start" textLength="55.1" lengthAdjust="spacingAndGlyphs">144°E</text>
<text x="505.8" y="801.9" font-size="18.5" text-anchor="start" textLength="56.2" lengthAdjust="spacingAndGlyphs">146°E</text>
<text x="590.1" y="801.9" font-size="18.5" text-anchor="start" textLength="55.1" lengthAdjust="spacingAndGlyphs">148°E</text>
<text x="674.5" y="801.9" font-size="18.5" text-anchor="start" textLength="55.1" lengthAdjust="spacingAndGlyphs">150°E</text>
<text x="757.9" y="801.9" font-size="18.5" text-anchor="start" textLength="56.1" lengthAdjust="spacingAndGlyphs">152°E</text>
<text x="842.2" y="801.9" font-size="18.5" text-anchor="start" textLength="55.1" lengthAdjust="spacingAndGlyphs">154°E</text>
<text x="926.6" y="801.9" font-size="18.5" text-anchor="start" textLength="55.1" lengthAdjust="spacingAndGlyphs">156°E</text>
<text x="1009.9" y="801.9" font-size="18.5" text-anchor="start" textLength="56.1" lengthAdjust="spacingAndGlyphs">158°E</text>
<text x="1094.3" y="801.9" font-size="18.5" text-anchor="start" textLength="56.1" lengthAdjust="spacingAndGlyphs">160°E</text>
<text x="1178.7" y="801.9" font-size="18.5" text-anchor="start" textLength="55.1" lengthAdjust="spacingAndGlyphs">162°E</text>
<text x="1262.0" y="801.9" font-size="18.5" text-anchor="start" textLength="56.2" lengthAdjust="spacingAndGlyphs">164°E</text>
<polygon points="28.05,883.9 129.1,870.4 129.1,897.4" fill="#e5f5f9"/>
<rect x="129.10" y="870.4" width="180.11" height="27.0" fill="#ccece6"/>
<rect x="308.91" y="870.4" width="180.11" height="27.0" fill="#99d8c9"/>
<rect x="488.73" y="870.4" width="180.11" height="27.0" fill="#66c2a4"/>
<rect x="668.54" y="870.4" width="180.11" height="27.0" fill="#41ae76"/>
<rect x="848.36" y="870.4" width="180.11" height="27.0" fill="#238b45"/>
<rect x="1028.17" y="870.4" width="180.11" height="27.0" fill="#006d2c"/>
<rect x="1207.99" y="870.4" width="180.11" height="27.0" fill="#00441b"/>
<line x1="129.10" y1="870.4" x2="129.10" y2="897.4" stroke="#000" stroke-opacity="0.3" stroke-width="1.5"/>
<line x1="308.91" y1="870.4" x2="308.91" y2="897.4" stroke="#000" stroke-opacity="0.3" stroke-width="1.5"/>
<line x1="488.73" y1="870.4" x2="488.73" y2="897.4" stroke="#000" stroke-opacity="0.3" stroke-width="1.5"/>
<line x1="668.54" y1="870.4" x2="668.54" y2="897.4" stroke="#000" stroke-opacity="0.3" stroke-width="1.5"/>
<line x1="848.36" y1="870.4" x2="848.36" y2="897.4" stroke="#000" stroke-opacity="0.3" stroke-width="1.5"/>
<line x1="1028.17" y1="870.4" x2="1028.17" y2="897.4" stroke="#000" stroke-opacity="0.3" stroke-width="1.5"/>
<line x1="1207.99" y1="870.4" x2="1207.99" y2="897.4" stroke="#000" stroke-opacity="0.3" stroke-width="1.5"/>
<polygon points="28.05,883.9 129.1,870.4 1387.8,870.4 1387.8,897.4 129.1,897.4" fill="none" stroke="#222" stroke-width="1"/>
<line x1="129.10" y1="897.4" x2="129.10" y2="902.6" stroke="#000" stroke-width="1"/>
<text x="113.5" y="921.0" font-size="23.3" text-anchor="start" textLength="31.3" lengthAdjust="spacingAndGlyphs">0.3</text>
<line x1="308.91" y1="897.4" x2="308.91" y2="902.6" stroke="#000" stroke-width="1"/>
<text x="293.4" y="921.0" font-size="23.3" text-anchor="start" textLength="31.3" lengthAdjust="spacingAndGlyphs">0.4</text>
<line x1="488.73" y1="897.4" x2="488.73" y2="902.6" stroke="#000" stroke-width="1"/>
<text x="473.3" y="921.0" font-size="23.3" text-anchor="start" textLength="31.3" lengthAdjust="spacingAndGlyphs">0.5</text>
<line x1="668.54" y1="897.4" x2="668.54" y2="902.6" stroke="#000" stroke-width="1"/>
<text x="653.2" y="921.0" font-size="23.3" text-anchor="start" textLength="31.3" lengthAdjust="spacingAndGlyphs">0.6</text>
<line x1="848.36" y1="897.4" x2="848.36" y2="902.6" stroke="#000" stroke-width="1"/>
<text x="833.0" y="921.0" font-size="23.3" text-anchor="start" textLength="31.3" lengthAdjust="spacingAndGlyphs">0.7</text>
<line x1="1028.17" y1="897.4" x2="1028.17" y2="902.6" stroke="#000" stroke-width="1"/>
<text x="1012.9" y="921.0" font-size="23.3" text-anchor="start" textLength="31.3" lengthAdjust="spacingAndGlyphs">0.8</text>
<line x1="1207.99" y1="897.4" x2="1207.99" y2="902.6" stroke="#000" stroke-width="1"/>
<text x="1191.8" y="921.0" font-size="23.3" text-anchor="start" textLength="32.4" lengthAdjust="spacingAndGlyphs">0.9</text>
<line x1="1387.80" y1="897.4" x2="1387.80" y2="902.6" stroke="#000" stroke-width="1"/>
<text x="1381.1" y="921.0" font-size="23.3" text-anchor="start" textLength="13.1" lengthAdjust="spacingAndGlyphs">1</text>
<text x="596.8" y="953.8" font-size="25" text-anchor="start" textLength="221.8" lengthAdjust="spacingAndGlyphs">Spatial correlation</text>
<text x="26.8" y="1002.0" font-size="17.5" text-anchor="start" textLength="184.3" lengthAdjust="spacingAndGlyphs">Run date: 1st March</text>
<text x="597.8" y="1002.0" font-size="17.5" text-anchor="start" textLength="218.8" lengthAdjust="spacingAndGlyphs">Base period: 1981-2018</text>
<text x="1213.0" y="1001.8" font-size="17.5" text-anchor="start" textLength="174.8" lengthAdjust="spacingAndGlyphs">Issued: 02/02/2022</text>
<text x="27.4" y="1028.6" font-size="15.5" text-anchor="start" textLength="340.6" lengthAdjust="spacingAndGlyphs">Data source: ACCESS-S2 and NOAA OISST V2</text>
<text x="29.0" y="1045.7" font-size="13.3" text-anchor="start" textLength="644.0" lengthAdjust="spacingAndGlyphs">© Commonwealth of Australia 2022, Australian Bureau of Meteorology, Supported by COSPPac</text>
<text x="27.8" y="1056.8" font-size="12.6" text-anchor="start" textLength="911.2" lengthAdjust="spacingAndGlyphs">Disclaimer: Contains NOAA OISST V2 data provided by NOAA/NCEI, Asheville, North Carolina, USA, from their website https://www.ncdc.noaa.gov/oisst.</text>
<text x="27.8" y="1083.8" font-size="12.6" text-anchor="start" textLength="1357.2" lengthAdjust="spacingAndGlyphs">Shapefile data extracted from Flanders Marine Institute (2019), Maritime Boundaries Geodatabase: Maritime Boundaries and Exclusive Economic Zones (200NM), version 11. Available online at http://www.marineregions.org/.</text>
</svg></body></html>
